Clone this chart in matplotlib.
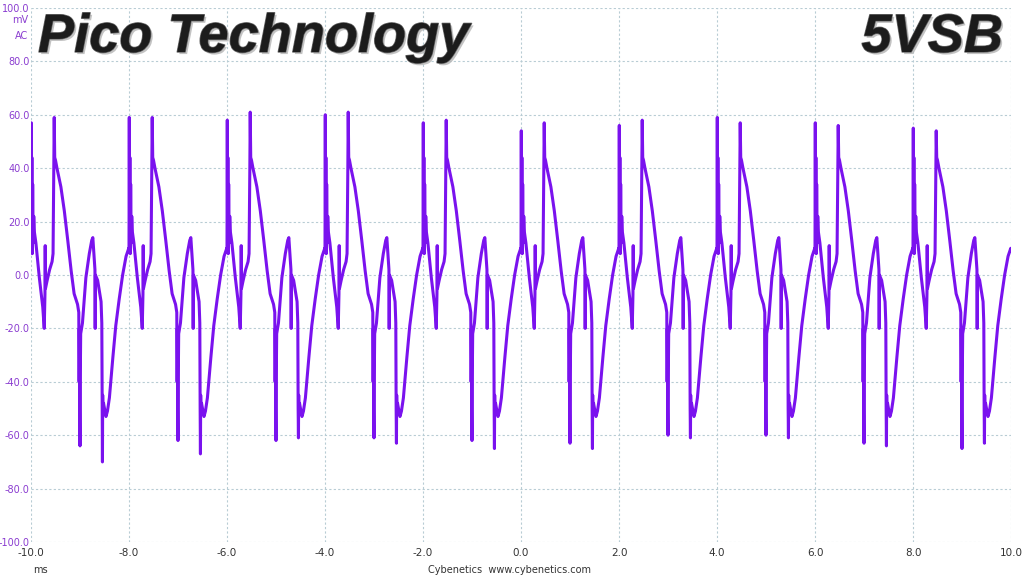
import numpy as np
import matplotlib
matplotlib.use("Agg")
import matplotlib.pyplot as plt
import matplotlib.patheffects as pe

# cycle start times (ms), one cycle = 2 ms
cycle_starts = [-10.0, -8.0, -6.0, -4.0, -2.0, 0.0, 2.0, 4.0, 6.0, 8.0]
# per-cycle peaks (mV)
spike_a = [57, 59, 58, 60, 57, 54, 56, 59, 57, 55]
peak_b = [59, 59, 61, 61, 58, 57, 58, 57, 56, 54]
dip_1 = [-64, -62, -62, -61, -62, -63, -60, -60, -63, -65]
dip_2 = [-70, -67, -61, -63, -65, -65, -61, -61, -64, -63]

# shape of one cycle: offset in ms, level in mV (letters -> per-cycle peak)
shape_dt = [0.000, 0.006, 0.012, 0.018, 0.026, 0.034, 0.044, 0.056, 0.070, 0.100,
            0.170, 0.240, 0.270, 0.285, 0.290, 0.296, 0.330, 0.380, 0.430, 0.450,
            0.466, 0.474, 0.484, 0.500, 0.530, 0.610, 0.680, 0.750, 0.820, 0.880,
            0.950, 0.975, 0.982, 0.988, 0.994, 1.000, 1.006, 1.014, 1.050, 1.120,
            1.190, 1.240, 1.262, 1.290, 1.305, 1.310, 1.315, 1.360, 1.430, 1.445,
            1.452, 1.458, 1.463, 1.470, 1.480, 1.500, 1.530, 1.560, 1.600, 1.670,
            1.730, 1.800, 1.870, 1.940, 1.995]
shape_mv = [9, 'A', 14, 44, 8, 34, 12, 22, 16, 12,
            -1, -12, -20, -7, 11, -5, -2, 2, 5, 8,
            40, 'B', 44, 43, 40, 33, 24, 13, 1.5, -7,
            -11, -14, -40, -20, -50, 'D1', -38, -22, -18, -1,
            8, 13, 14, 6, 2, -20, 0, -2, -10, -18,
            -50, 'D2', -45, -52, -48, -50, -53, -51, -46, -31,
            -19, -9, 0, 7, 10]

t = []
v = []
for i, t0 in enumerate(cycle_starts):
    lookup = {'A': spike_a[i], 'B': peak_b[i], 'D1': dip_1[i], 'D2': dip_2[i]}
    for dt, mv in zip(shape_dt, shape_mv):
        t.append(t0 + dt)
        v.append(lookup.get(mv, mv))
t.append(10.0)
v.append(9)

fig = plt.figure(figsize=(10.24, 5.76), dpi=100)
ax = fig.add_axes([31 / 1024, 1 - 542 / 576, 980 / 1024, 534 / 576])

ax.plot(t, v, color='#7A12EE', lw=2.2, solid_joinstyle='round')

ax.set_xlim(-10, 10)
ax.set_ylim(-100, 100)
ax.set_xticks(np.arange(-10, 10.1, 2))
ax.set_yticks(np.arange(-100, 100.1, 20))
ax.set_xticklabels([f"{x:.1f}" for x in np.arange(-10, 10.1, 2)])
ax.set_yticklabels([f"{y:.1f}" for y in np.arange(-100, 100.1, 20)])
ax.grid(True, color='#b8ccd4', ls=(0, (2, 2)), lw=0.8)
for s in ax.spines.values():
    s.set_visible(False)
ax.tick_params(axis='both', length=0)
ax.tick_params(axis='y', colors='#8a3cd0', labelsize=7, pad=1)
ax.tick_params(axis='x', colors='#333333', labelsize=7.5, pad=4)

fig.text(28 / 1024, 1 - 20 / 576, "mV", color='#8a3cd0', fontsize=7, ha='right', va='center')
fig.text(28 / 1024, 1 - 36 / 576, "AC", color='#8a3cd0', fontsize=7, ha='right', va='center')
fig.text(40 / 1024, 1 - 570 / 576, "ms", color='#333333', fontsize=7, ha='center', va='center')
fig.text(510 / 1024, 1 - 570 / 576, "Cybenetics  www.cybenetics.com", color='#333333',
         fontsize=7, ha='center', va='center')

title_fx = [pe.withSimplePatchShadow(offset=(1.5, -1.5), shadow_rgbFace='#b5b5b5', alpha=0.8),
            pe.withStroke(linewidth=1.0, foreground='#6a6a6a')]
fig.text(38 / 1024, 1 - 52 / 576, "Pico Technology", family='Liberation Sans', style='italic',
         weight='bold', fontsize=39, color='#1c1c1c', ha='left', va='baseline', path_effects=title_fx)
fig.text(1003 / 1024, 1 - 52 / 576, "5VSB", family='Liberation Sans', style='italic',
         weight='bold', fontsize=39, color='#1c1c1c', ha='right', va='baseline', path_effects=title_fx)

fig.savefig("out.png", dpi=100)
